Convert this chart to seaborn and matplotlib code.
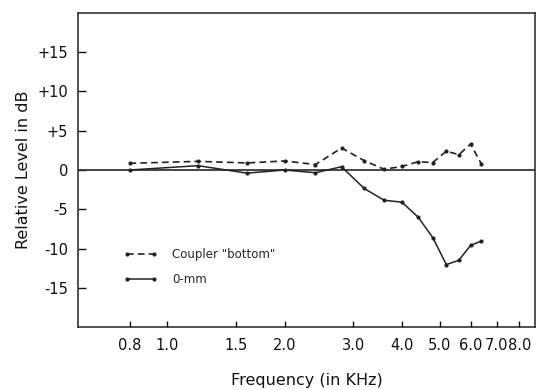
import numpy as np
import pandas as pd
import matplotlib
matplotlib.use("Agg")
import matplotlib.pyplot as plt
import seaborn as sns
from matplotlib.ticker import FixedLocator, FixedFormatter, NullLocator

# values (kHz, dB)
freq_coupler = [0.8, 1.2, 1.6, 2.0, 2.4, 2.8, 3.2, 3.6, 4.0, 4.4, 4.8, 5.2, 5.6, 6.0, 6.4]
level_coupler = [0.85, 1.1, 0.9, 1.15, 0.7, 2.8, 1.2, 0.1, 0.45, 1.05, 0.95, 2.4, 1.95, 3.3, 0.75]

freq_0mm = [0.8, 1.2, 1.6, 2.0, 2.4, 2.8, 3.2, 3.6, 4.0, 4.4, 4.8, 5.2, 5.6, 6.0, 6.4]
level_0mm = [0.0, 0.55, -0.4, 0.0, -0.35, 0.42, -2.35, -3.85, -4.1, -6.0, -8.6, -12.05, -11.5, -9.6, -9.05]

xticks = [0.8, 1.0, 1.5, 2.0, 3.0, 4.0, 5.0, 6.0, 7.0, 8.0]
xtick_labels = ["0.8", "1.0", "1.5", "2.0", "3.0", "4.0", "5.0", "6.0", "7.0", "8.0"]
yticks = [15, 10, 5, 0, -5, -10, -15]
ytick_labels = ["+15", "+10", "+5", "0", "-5", "-10", "-15"]

sns.set_theme(style="white")
plt.rcParams["font.family"] = ["DejaVu Sans"]

df_c = pd.DataFrame({"freq": freq_coupler, "level": level_coupler})
df_m = pd.DataFrame({"freq": freq_0mm, "level": level_0mm})

fig = plt.figure(figsize=(5.4, 3.9), dpi=100)
ax = fig.add_axes([0.1444, 0.1615, 0.8463, 0.8052])

ax.axhline(0, color="#2e3b36", linewidth=1.3, zorder=1)

sns.lineplot(data=df_c, x="freq", y="level", ax=ax, color="#222222",
             linewidth=1.2, marker="o", markersize=3, markeredgewidth=0,
             dashes=False, linestyle=(0, (4, 2.5)), label='Coupler "bottom"')
sns.lineplot(data=df_m, x="freq", y="level", ax=ax, color="#222222",
             linewidth=1.1, marker="o", markersize=3, markeredgewidth=0,
             label="0-mm")

ax.set_xscale("log")
ax.set_xlim(0.59, 8.78)
ax.set_ylim(-20, 20)
ax.xaxis.set_major_locator(FixedLocator(xticks))
ax.xaxis.set_major_formatter(FixedFormatter(xtick_labels))
ax.xaxis.set_minor_locator(NullLocator())
ax.set_yticks(yticks)
ax.set_yticklabels(ytick_labels)

ax.tick_params(axis="y", direction="in", length=6, width=1, pad=7,
               labelsize=10.5, colors="#111111", left=True)
ax.tick_params(axis="x", direction="in", length=4, width=1, pad=8,
               labelsize=10.5, colors="#111111", bottom=True)

for s in ax.spines.values():
    s.set_color("#222222")
    s.set_linewidth(1.1)

ax.set_xlabel("Frequency (in KHz)", fontsize=11.5, color="#111111", labelpad=14)
ax.set_ylabel("Relative Level in dB", fontsize=11.5, color="#111111", labelpad=5)

ax.legend(loc="center left", bbox_to_anchor=(0.1, 0.191), frameon=False,
          fontsize=8.5, handlelength=2.9, handletextpad=1.2, labelspacing=1.0,
          borderpad=0, borderaxespad=0, numpoints=2)

fig.savefig("out.png", dpi=100)
